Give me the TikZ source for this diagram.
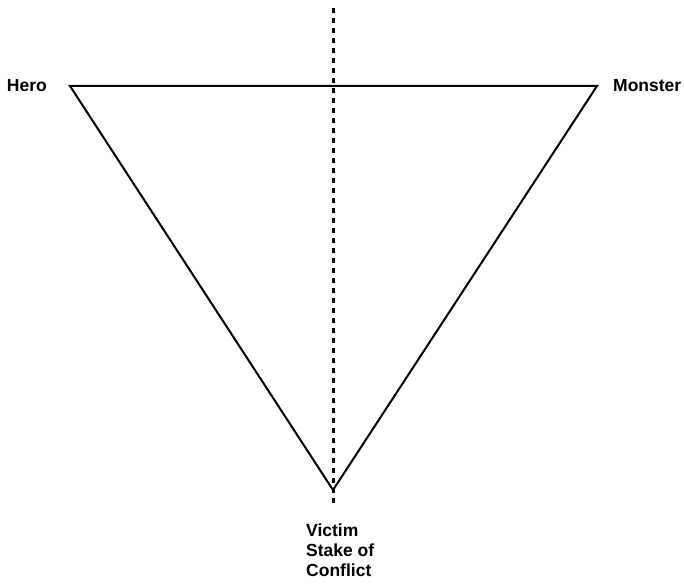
\documentclass[tikz,border=0pt]{standalone}
\usepackage{fontspec}
\setmainfont{Liberation Sans}

\begin{document}
\begin{tikzpicture}[x=1pt,y=-1pt,
  label/.style={font=\fontsize{17.5}{20}\selectfont\bfseries,inner sep=0pt}]
\useasboundingbox (0,0) rectangle (684,583);
\coordinate (hl) at (70,86);
\coordinate (ml) at (597,86);
\coordinate (vl) at (333,490);
\coordinate (top) at (333,8);
\coordinate (bot) at (333,506);
\draw[line width=2pt,line join=miter] (hl) -- (ml) -- (vl) -- cycle;
\draw[line width=3pt,dash pattern=on 5pt off 5pt] (top) -- (bot);
\node[label,anchor=east] (hero) at (47,86) {Hero};
\node[label,anchor=west] (monster) at (613,86) {Monster};
\node[label,anchor=north west,align=left] (victim) at (306,524) {Victim\\Stake of\\Conflict};
\end{tikzpicture}
\end{document}
